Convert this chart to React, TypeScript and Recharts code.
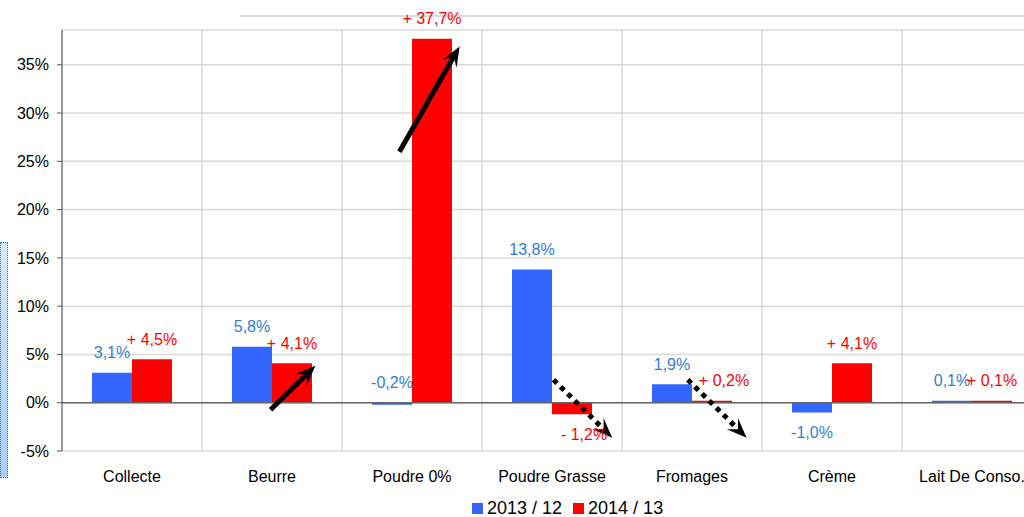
import { Bar, BarChart, CartesianGrid, LabelList, Legend, ReferenceLine, XAxis, YAxis } from 'recharts'

const categories = ['Collecte', 'Beurre', 'Poudre 0%', 'Poudre Grasse', 'Fromages', 'Crème', 'Lait De Conso.']
const values2013 = [3.1, 5.8, -0.2, 13.8, 1.9, -1.0, 0.1]
const values2014 = [4.5, 4.1, 37.7, -1.2, 0.2, 4.1, 0.1]
const yTicks = [-5, 0, 5, 10, 15, 20, 25, 30, 35]
const gridTicks = [1, 2, 3, 4, 5, 6]

// annotation arrows, in data units (x on the 0..7 grid axis, y in %)
const arrows = [
  { from: [1.49, -0.72], to: [1.81, 3.83], dotted: false },
  { from: [2.41, 26.0], to: [2.84, 36.9], dotted: false },
  { from: [3.51, 2.38], to: [3.93, -3.62], dotted: true },
  { from: [4.47, 2.38], to: [4.89, -3.62], dotted: true },
]
// red labels pushed aside so the dotted arrows don't run over them
const nudgedRed = ['Poudre Grasse', 'Fromages']

const data = categories.map((name, i) => ({ name, slot: i + 0.5, a: values2013[i], b: values2014[i] }))

const FONT = '"Liberation Sans", Arial, sans-serif'
const BLUE = '#3366ff'
const RED = '#ff0000'

const fmtBlue = (v: number) => `${v.toFixed(1).replace('.', ',')}%`
const fmtRed = (v: number) => `${v < 0 ? '-' : '+'} ${Math.abs(v).toFixed(1).replace('.', ',')}%`

const makeLabel = (color: string, fmt: (v: number) => string, nudge: string[] = []) => (props: any) => {
  const { x, y, width, height, value, index } = props
  const top = Math.min(y, y + height)
  const bottom = Math.max(y, y + height)
  const cy = value < -0.5 ? bottom + 20 : top - 20
  const dx = nudge.includes(categories[index]) ? 12 : 0
  return (
    <text x={x + width / 2 + dx} y={cy} dy="0.35em" textAnchor="middle" fill={color} fontSize={16} fontFamily={FONT}>
      {fmt(Number(value))}
    </text>
  )
}

const arrowShape = (dotted: boolean) => (p: any) => {
  const { x1, y1, x2, y2 } = p
  const dx = x2 - x1
  const dy = y2 - y1
  const len = Math.sqrt(dx * dx + dy * dy)
  const ux = dx / len
  const uy = dy / len
  const L = 20
  const W = 8
  const nx = -uy
  const ny = ux
  const notchX = x2 - ux * L * 0.6
  const notchY = y2 - uy * L * 0.6
  const pts = [
    [x2, y2],
    [x2 - ux * L + nx * W, y2 - uy * L + ny * W],
    [notchX, notchY],
    [x2 - ux * L - nx * W, y2 - uy * L - ny * W],
  ]
  return (
    <g>
      <line x1={x1} y1={y1} x2={notchX} y2={notchY} stroke="#000" strokeWidth={5} strokeDasharray={dotted ? '5 5' : undefined} />
      <polygon points={pts.map((q) => q.join(',')).join(' ')} fill="#000" />
    </g>
  )
}

const renderLegend = (props: any) => (
  <div style={{ display: 'flex', alignItems: 'center', fontFamily: FONT, fontSize: 18, color: '#000' }}>
    {(props.payload || []).map((item: any, i: number) => (
      <div key={i} style={{ display: 'flex', alignItems: 'center', marginRight: 11 }}>
        <span style={{ display: 'inline-block', width: 11, height: 11, background: item.color, marginRight: 4 }} />
        <span>{item.value}</span>
      </div>
    ))}
  </div>
)

export default function App() {
  return (
    <div style={{ position: 'absolute', left: 0, top: 0, width: 1024, height: 517, overflow: 'hidden', background: '#fff' }}>
      <div style={{ position: 'absolute', left: 240, top: 15, width: 800, height: 2, background: '#dcdcdc' }} />
      <div
        style={{
          position: 'absolute', left: 0, top: 242, width: 6, height: 234,
          border: '1px dotted #3366ff', background: 'linear-gradient(#d6e8fb, #a9cdf3)',
        }}
      />
      <BarChart width={1050} height={517} data={data} margin={{ top: 30, right: 8, left: 0, bottom: 10 }} barGap={0}>
        <CartesianGrid vertical={false} stroke="#d9d9d9" strokeWidth={1.5} />
        <CartesianGrid horizontal={false} xAxisId="grid" stroke="#c8c8c8" />
        <XAxis dataKey="name" axisLine={false} tickLine={false} height={30} tickMargin={14}
          tick={{ fontSize: 16, fill: '#000', fontFamily: FONT }} interval={0} />
        <XAxis xAxisId="grid" dataKey="slot" type="number" domain={[0, 7]} ticks={gridTicks} allowDataOverflow hide />
        <YAxis width={62} domain={[-5, 38.6]} ticks={yTicks} allowDataOverflow interval={0}
          tickFormatter={(v) => `${v}%`} stroke="#555" tickSize={5} tickMargin={8}
          tick={{ fontSize: 16, fill: '#000', fontFamily: FONT }} />
        <ReferenceLine y={0} stroke="#666" strokeWidth={1.5} />
        <Bar dataKey="a" name="2013 / 12" fill={BLUE} barSize={40} minPointSize={2} isAnimationActive={false}>
          <LabelList dataKey="a" content={makeLabel('#2f7ed8', fmtBlue)} />
        </Bar>
        <Bar dataKey="b" name="2014 / 13" fill={RED} barSize={40} minPointSize={2} isAnimationActive={false}>
          <LabelList dataKey="b" content={makeLabel(RED, fmtRed, nudgedRed)} />
        </Bar>
        {arrows.map((a, i) => (
          <ReferenceLine key={i} xAxisId="grid"
            segment={[{ x: a.from[0], y: a.from[1] }, { x: a.to[0], y: a.to[1] }]}
            shape={arrowShape(a.dotted)} />
        ))}
        <Legend verticalAlign="bottom" content={renderLegend}
          wrapperStyle={{ left: 472, top: 498, width: 320, height: 26 }} />
      </BarChart>
    </div>
  )
}
